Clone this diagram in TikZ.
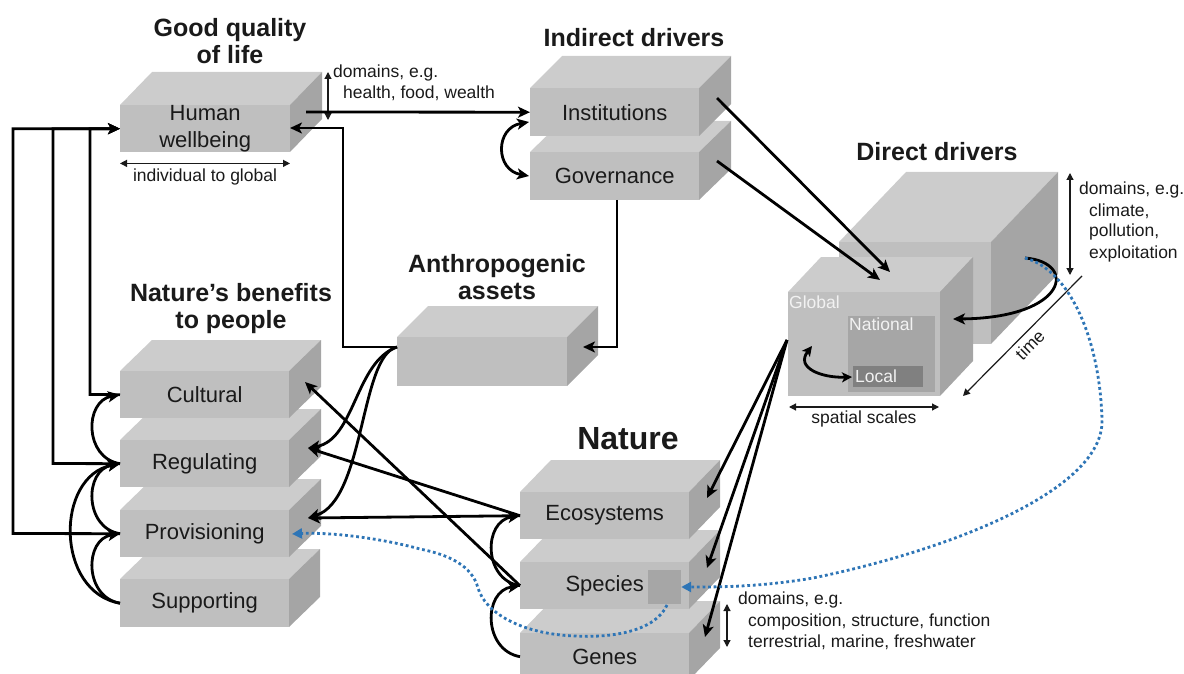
\documentclass[tikz,border=0pt]{standalone}
\usepackage{fontspec}
\setmainfont{Liberation Sans}
\usetikzlibrary{arrows.meta}
\definecolor{topc}{HTML}{CCCCCC}
\definecolor{frontc}{HTML}{BFBFBF}
\definecolor{sidec}{HTML}{A5A5A5}
\definecolor{natc}{HTML}{A6A6A6}
\definecolor{locc}{HTML}{808080}
\definecolor{dotblue}{HTML}{2E75B6}
\definecolor{txt}{HTML}{1A1A1A}
% #1 name, #2 x, #3 y (front top-left), #4 width, #5 height, #6 depth x, #7 depth y (up), #8 text
\newcommand\prism[8]{%
  \fill[topc] (#2,#3) -- ++(#6,-#7) -- ++(#4,0) -- ++(-#6,#7) -- cycle;
  \fill[sidec] (#2+#4,#3) -- ++(#6,-#7) -- ++(0,#5) -- ++(-#6,#7) -- cycle;
  \node[face, minimum width=#4pt, minimum height=#5pt, anchor=north west] (#1) at (#2,#3) {#8};
}
\tikzset{
  face/.style={fill=frontc, inner sep=0pt, align=center, text=txt, font=\fontsize{22}{27}\selectfont},
  title/.style={inner sep=0pt, align=center, text=txt, font=\bfseries\fontsize{25}{27}\selectfont},
  note/.style={inner sep=0pt, anchor=west, text=txt, font=\fontsize{17.5}{20}\selectfont},
  wnote/.style={inner sep=0pt, anchor=west, text=white!95!black, font=\fontsize{17.5}{20}\selectfont},
  conn/.style={line width=2.8pt, draw=black},
  arr/.style={conn, -{Stealth[length=12pt,width=11pt,inset=3pt]}},
  darr/.style={conn, {Stealth[length=12pt,width=11pt,inset=3pt]}-{Stealth[length=12pt,width=11pt,inset=3pt]}},
  thinl/.style={line width=1.2pt, draw=txt},
  tarr/.style={thinl, {Triangle[length=7pt,width=7pt]}-{Triangle[length=7pt,width=7pt]}},
  tarr1/.style={thinl, -{Triangle[length=7pt,width=7pt]}},
  blued/.style={draw=dotblue, line width=2.8pt, dash pattern=on 2.8pt off 2.8pt, -{Triangle[length=10pt,width=10pt]}},
}
\begin{document}
\begin{tikzpicture}[x=1pt,y=-1pt]
\useasboundingbox (0,0) rectangle (1184,674);

% ---------- boxes ----------
\prism{hw}{120}{105}{170}{47}{32}{33}{Human\\wellbeing}
\prism{gov}{530}{152}{169}{48}{32}{31}{Governance}
\prism{inst}{530}{88}{169}{48}{32}{32}{Institutions}
\prism{anth}{397}{337}{170}{49}{31}{31}{}
\prism{sup}{120}{579}{169}{48}{31}{30}{Supporting}
\prism{prov}{120}{510}{169}{47}{32}{31}{Provisioning}
\prism{reg}{120}{440}{169}{47}{32}{31}{Regulating}
\prism{cul}{120}{371}{169}{47}{32}{31}{Cultural}
\prism{gen}{520}{633}{169}{47}{31}{32}{Genes}
\prism{spe}{520}{562}{169}{47}{31}{32}{Species}
\prism{eco}{520}{492}{169}{47}{31}{32}{Ecosystems}
\node[fill=natc, minimum width=33pt, minimum height=34pt, inner sep=0pt] (spq) at (664.5,587) {};

% direct drivers cubes
\prism{ddb}{839}{242}{152}{102}{67}{70}{}
\prism{ddf}{788}{292}{152}{104}{33}{35}{}
\node[fill=natc, minimum width=87pt, minimum height=76pt, inner sep=0pt, anchor=north west] (nat) at (848,316) {};
\node[fill=locc, minimum width=70pt, minimum height=21pt, inner sep=0pt, anchor=north west] (loc) at (853,366) {};
\node[wnote] (tglob) at (789,302) {Global};
\node[wnote] (tnat) at (849,324) {National};
\node[wnote] (tloc) at (855,376) {Local};

% ---------- titles ----------
\node[title] (tgq) at (230,41) {Good quality\\of life};
\node[title] (tid) at (634,38) {Indirect drivers};
\node[title] (tdd) at (937,152) {Direct drivers};
\node[title] (tan) at (497,277) {Anthropogenic\\assets};
\node[title] (tnb) at (231,309) {Nature’s benefits\\to people};
\node[title, font=\bfseries\fontsize{32}{34}\selectfont] (tna) at (628,439) {Nature};

% ---------- annotations ----------
\coordinate (hwa1) at (328,72); \coordinate (hwa2) at (328,120);
\draw[tarr] (hwa1) -- (hwa2);
\node[note] (hwd1) at (333,73) {domains, e.g.};
\node[note] (hwd2) at (343,93) {health, food, wealth};
\draw[tarr] (hw.south west) ++(0,11) coordinate (hwb1) -- ++(170,0) coordinate (hwb2);
\node[note, anchor=center] (hwsc) at (205,177) {individual to global};

\coordinate (dda1) at (1070,173); \coordinate (dda2) at (1070,275);
\draw[tarr] (dda1) -- (dda2);
\node[note] (ddd1) at (1079,190) {domains, e.g.};
\node[note] (ddd2) at (1089,211) {climate,};
\node[note] (ddd3) at (1089,232) {pollution,};
\node[note] (ddd4) at (1089,254) {exploitation};
\coordinate (ssa1) at (789,407); \coordinate (ssa2) at (939,407);
\draw[tarr] (ssa1) -- (ssa2);
\node[note, anchor=center] (tss) at (864,419) {spatial scales};
\coordinate (tma1) at (1082,276); \coordinate (tma2) at (963,396);
\draw[tarr1] (tma1) -- (tma2);
\node[note, anchor=center, rotate=45] (ttime) at (1030,345) {time};

\coordinate (naa1) at (727,604); \coordinate (naa2) at (727,647);
\draw[tarr] (naa1) -- (naa2);
\node[note] (nad1) at (738,600) {domains, e.g.};
\node[note] (nad2) at (748,622) {composition, structure, function};
\node[note] (nad3) at (748,642) {terrestrial, marine, freshwater};

% ---------- connectors ----------
\coordinate (hwout) at (306,112);
\draw[arr] (hwout) -- (inst.west);
\coordinate (instarc) at (529,122); \coordinate (govarc) at (529,176);
\draw[darr] (instarc) .. controls (495,128) and (495,170) .. (govarc);

\coordinate (instR) at (717,98); \coordinate (govR) at (717,161);
\coordinate (ddt1) at (890,272); \coordinate (ddt2) at (880,280);
\draw[arr] (instR) -- (ddt1);
\draw[arr] (govR) -- (ddt2);

\coordinate (govB) at (617,200); \coordinate (anthR) at (583,347);
\draw[arr] (govB) |- (anthR);
\coordinate (anthL) at (397,347); \coordinate (hwR) at (290,128);
\draw[arr] (anthL) -- (343,347) |- (hwR);

\coordinate (regT) at (308,448); \coordinate (provT) at (308,518); \coordinate (culT) at (305,382);
\draw[arr] (anthL) .. controls (355,362) and (355,440) .. (regT);
\draw[arr] (anthL) .. controls (360,355) and (365,500) .. (provT);

\draw[arr] (eco.west) -- (regT);
\draw[arr] (eco.west) -- (provT);
\draw[arr] (spe.west) -- (culT);

% left feedback to human wellbeing
\draw[arr] (cul.west) -- (90,394.5) |- (hw.west);
\draw[arr] (reg.west) -- (53,463.5) |- (hw.west);
\draw[arr] (prov.west) -- (13,533.5) |- (hw.west);

% NCP arcs
\draw[arr] (reg.west) .. controls (84,458) and (84,401) .. (cul.west);
\draw[arr] (prov.west) .. controls (84,528) and (84,470) .. (reg.west);
\draw[arr] (sup.west) .. controls (84,597) and (84,539) .. (prov.west);
\draw[arr] (sup.west) .. controls (55,592) and (55,476) .. (reg.west);

% nature arcs
\draw[arr] (spe.west) .. controls (483,580) and (483,521) .. (eco.west);
\draw[arr] (gen.west) .. controls (483,650) and (483,591) .. (spe.west);

% direct drivers to nature
\coordinate (ddl) at (787,340);
\coordinate (ecoT) at (707,498); \coordinate (speT) at (707,568); \coordinate (genT) at (705,637);
\draw[arr] (ddl) -- (ecoT);
\draw[arr] (ddl) -- (speT);
\draw[arr] (ddl) -- (genT);

% direct drivers internal
\coordinate (ddside) at (1025,258); \coordinate (ddfront) at (953,319);
\draw[arr] (ddside) .. controls (1078,262) and (1068,318) .. (ddfront);
\coordinate (glob) at (812,346); \coordinate (locL) at (852,377);
\draw[conn, {Stealth[length=10pt,width=10pt,inset=2.5pt]}-{Stealth[length=10pt,width=10pt,inset=2.5pt]}] (glob) .. controls (795,368) and (822,378) .. (locL);

% blue dotted feedbacks
\coordinate (bl1) at (1102,420); \coordinate (bl2) at (813,578);
\draw[blued] (ddside) .. controls (1070,270) and (1100,340) .. (bl1)
  .. controls (1104,490) and (950,550) .. (bl2)
  .. controls (760,587) and (720,587) .. (spq.east);
\coordinate (bs0) at (667,605); \coordinate (bs1) at (575,636); \coordinate (bs2) at (478,588);
\coordinate (bs3) at (420,549); \coordinate (provB) at (292,534);
\draw[blued] (bs0) .. controls (655,632) and (610,638) .. (bs1)
  .. controls (520,634) and (485,612) .. (bs2)
  .. controls (472,566) and (450,555) .. (bs3)
  .. controls (380,538) and (330,532) .. (provB);
\end{tikzpicture}
\end{document}
